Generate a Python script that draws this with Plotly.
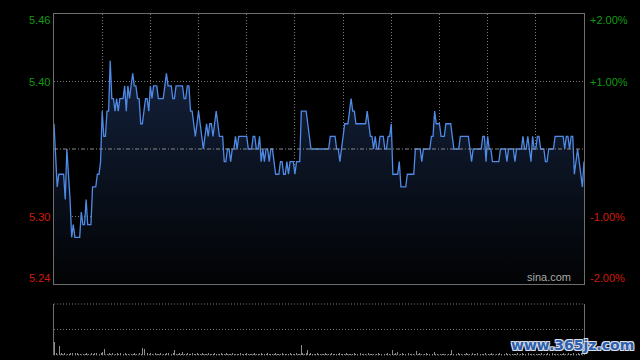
import plotly.graph_objects as go

prev_close = 5.35
left_labels = ["5.46", "5.40", "5.30", "5.24"]
right_labels = ["+2.00%", "+1.00%", "-1.00%", "-2.00%"]
pct_levels = [0.02, 0.01, -0.01, -0.02]
grid_minutes = [30, 60, 90, 120, 150, 180, 210, 240, 270, 300]

price = [
    5.37, 5.34, 5.32, 5.33, 5.33, 5.33, 5.33, 5.31, 5.35, 5.33,
    5.31, 5.28, 5.29, 5.28, 5.28, 5.28, 5.28, 5.30, 5.29, 5.29,
    5.31, 5.29, 5.29, 5.29, 5.32, 5.32, 5.32, 5.33, 5.33, 5.34,
    5.38, 5.36, 5.36, 5.38, 5.38, 5.42, 5.39, 5.39, 5.38, 5.39,
    5.38, 5.39, 5.39, 5.39, 5.40, 5.38, 5.40, 5.39, 5.40, 5.41,
    5.40, 5.40, 5.39, 5.39, 5.37, 5.37, 5.38, 5.39, 5.39, 5.38,
    5.40, 5.39, 5.40, 5.40, 5.40, 5.39, 5.39, 5.39, 5.39, 5.40,
    5.41, 5.40, 5.40, 5.40, 5.39, 5.39, 5.40, 5.40, 5.40, 5.40,
    5.40, 5.39, 5.39, 5.40, 5.40, 5.38, 5.38, 5.37, 5.36, 5.37,
    5.38, 5.37, 5.36, 5.35, 5.36, 5.37, 5.36, 5.37, 5.37, 5.36,
    5.37, 5.38, 5.37, 5.36, 5.36, 5.36, 5.34, 5.34, 5.35, 5.35,
    5.34, 5.35, 5.35, 5.36, 5.35, 5.36, 5.36, 5.36, 5.36, 5.36,
    5.36, 5.35, 5.35, 5.35, 5.36, 5.36, 5.35, 5.35, 5.36, 5.34,
    5.35, 5.34, 5.35, 5.35, 5.34, 5.35, 5.35, 5.34, 5.33, 5.33,
    5.33, 5.34, 5.34, 5.33, 5.33, 5.34, 5.33, 5.34, 5.34, 5.34,
    5.33, 5.34, 5.34, 5.34, 5.38, 5.38, 5.38, 5.38, 5.37, 5.36,
    5.35, 5.35, 5.35, 5.35, 5.35, 5.35, 5.35, 5.35, 5.35, 5.35,
    5.35, 5.35, 5.36, 5.36, 5.36, 5.36, 5.35, 5.35, 5.34, 5.35,
    5.36, 5.37, 5.37, 5.37, 5.38, 5.39, 5.38, 5.38, 5.37, 5.37,
    5.37, 5.37, 5.37, 5.37, 5.37, 5.38, 5.37, 5.36, 5.36, 5.35,
    5.36, 5.35, 5.35, 5.36, 5.36, 5.36, 5.35, 5.35, 5.36, 5.36,
    5.37, 5.33, 5.33, 5.33, 5.33, 5.34, 5.32, 5.32, 5.32, 5.32,
    5.33, 5.33, 5.33, 5.33, 5.33, 5.35, 5.35, 5.35, 5.35, 5.34,
    5.35, 5.35, 5.35, 5.35, 5.35, 5.36, 5.36, 5.38, 5.37, 5.37,
    5.37, 5.36, 5.36, 5.36, 5.37, 5.37, 5.37, 5.37, 5.36, 5.35,
    5.35, 5.35, 5.35, 5.36, 5.36, 5.36, 5.36, 5.36, 5.36, 5.35,
    5.34, 5.35, 5.35, 5.35, 5.35, 5.35, 5.35, 5.36, 5.36, 5.34,
    5.36, 5.35, 5.35, 5.34, 5.34, 5.34, 5.34, 5.34, 5.35, 5.35,
    5.35, 5.35, 5.34, 5.35, 5.35, 5.35, 5.35, 5.34, 5.35, 5.35,
    5.35, 5.35, 5.36, 5.35, 5.35, 5.36, 5.35, 5.34, 5.36, 5.35,
    5.35, 5.36, 5.36, 5.35, 5.35, 5.35, 5.34, 5.34, 5.35, 5.35,
    5.35, 5.35, 5.36, 5.36, 5.36, 5.36, 5.36, 5.36, 5.35, 5.36,
    5.36, 5.35, 5.36, 5.36, 5.33, 5.34, 5.35, 5.34, 5.33, 5.32,
    5.34,
]

volume = [
    25, 3, 12, 18, 3, 2, 3, 4, 2, 2,
    3, 4, 2, 3, 4, 2, 2, 3, 2, 2,
    3, 2, 6, 3, 2, 4, 3, 2, 2, 3,
    6, 12, 3, 2, 3, 2, 3, 8, 2, 4,
    2, 3, 2, 2, 3, 2, 2, 3, 2, 2,
    3, 2, 2, 3, 2, 14, 12, 2, 3, 2,
    4, 2, 2, 3, 2, 2, 3, 2, 2, 2,
    3, 4, 2, 2, 3, 10, 2, 2, 3, 2,
    6, 2, 2, 3, 2, 2, 4, 2, 2, 3,
    2, 2, 3, 2, 2, 2, 3, 2, 2, 2,
    3, 2, 2, 2, 3, 2, 2, 4, 2, 2,
    2, 3, 2, 2, 2, 2, 3, 2, 2, 2,
    3, 2, 2, 2, 2, 3, 2, 2, 2, 3,
    2, 2, 2, 3, 2, 2, 2, 2, 3, 2,
    2, 2, 3, 2, 2, 2, 2, 3, 2, 2,
    2, 3, 2, 2, 20, 4, 2, 3, 10, 2,
    4, 2, 2, 2, 3, 2, 2, 2, 2, 3,
    2, 2, 2, 3, 2, 2, 2, 2, 3, 2,
    2, 2, 3, 2, 2, 2, 2, 3, 2, 2,
    2, 3, 2, 2, 2, 2, 3, 2, 2, 2,
    2, 2, 3, 2, 2, 2, 2, 2, 3, 2,
    2, 10, 2, 3, 6, 2, 2, 3, 2, 2,
    2, 3, 2, 2, 2, 2, 8, 2, 3, 2,
    2, 2, 3, 2, 2, 2, 2, 6, 2, 2,
    3, 2, 2, 2, 2, 3, 2, 2, 9, 2,
    2, 2, 3, 2, 2, 2, 2, 3, 2, 2,
    2, 4, 2, 2, 3, 2, 2, 2, 2, 3,
    2, 2, 2, 3, 2, 2, 2, 2, 3, 2,
    2, 2, 3, 2, 2, 4, 2, 2, 2, 3,
    2, 2, 3, 2, 2, 2, 3, 2, 2, 2,
    3, 2, 2, 2, 3, 2, 2, 2, 3, 2,
    2, 3, 2, 2, 2, 3, 2, 2, 3, 2,
    2, 3, 2, 2, 4, 3, 2, 3, 2, 3,
    100,
]

minutes = list(range(len(price)))
y_lo = prev_close * (1 - 0.02)
y_hi = prev_close * (1 + 0.02)

GREEN = "#139a13"
RED = "#d21a0a"
GRID = "#7a7a7a"
BORDER = "#6e6e6e"
FONT = "Liberation Sans, Arial, sans-serif"

fig = go.Figure()
fig.add_trace(go.Scatter(
    x=minutes, y=price, mode="lines",
    line=dict(color="#4f8ae6", width=1.3),
    fill="tozeroy",
    fillgradient=dict(type="vertical",
                      colorscale=[[0, "#020304"], [1, "#14223d"]],
                      start=y_lo, stop=max(price)),
    xaxis="x", yaxis="y", hoverinfo="skip",
))
fig.add_trace(go.Bar(
    x=minutes, y=volume, marker=dict(color="#8c8c8c", line=dict(width=0)),
    width=0.55, xaxis="x2", yaxis="y2", hoverinfo="skip",
))

main_bottom = (355 - 284) / 341
vol_top = (355 - 304) / 341

fig.update_layout(
    width=640, height=360,
    margin=dict(l=54, r=56, t=14, b=5),
    paper_bgcolor="#000000", plot_bgcolor="#000000",
    showlegend=False, bargap=0, hovermode=False,
    xaxis=dict(domain=[0, 1], range=[0, 330], tickvals=grid_minutes,
               showticklabels=False, ticks="", showgrid=True,
               gridcolor=GRID, griddash="1px,2px", gridwidth=1,
               showline=True, mirror=True, linecolor=BORDER, linewidth=1,
               zeroline=False, anchor="y"),
    yaxis=dict(domain=[main_bottom, 1], range=[y_lo, y_hi],
               tickvals=[prev_close * 1.01, prev_close * 0.99],
               showticklabels=False, ticks="", showgrid=True,
               gridcolor=GRID, griddash="1px,2px", gridwidth=1,
               showline=True, mirror=True, linecolor=BORDER, linewidth=1,
               zeroline=False, anchor="x"),
    xaxis2=dict(domain=[0, 1], range=[-0.5, 330.6], showticklabels=False,
                ticks="", showgrid=False, showline=False, zeroline=False,
                anchor="y2"),
    yaxis2=dict(domain=[0, vol_top], range=[0, max(volume)],
                tickvals=[max(volume) / 2],
                showticklabels=False, ticks="", showgrid=True,
                gridcolor=GRID, griddash="1px,2px", gridwidth=1,
                showline=True, mirror=True, linecolor=BORDER, linewidth=1,
                zeroline=False, anchor="x2"),
)

# previous close line
fig.add_shape(type="line", xref="x domain", yref="y", x0=0, x1=1,
              y0=prev_close, y1=prev_close,
              line=dict(color="#8a8a8a", width=1, dash="4px,2px,1px,2px"))
# volume panel top and bottom dotted edges
for yy in (0, 1):
    fig.add_shape(type="line", xref="x2 domain", yref="y2 domain", x0=0, x1=1,
                  y0=yy, y1=yy, layer="below",
                  line=dict(color=GRID, width=1, dash="1px,2px"))

shifts = [-6, 0, 0, 6]
for lab, rlab, p, s in zip(left_labels, right_labels, pct_levels, shifts):
    col = GREEN if p > 0 else RED
    yv = prev_close * (1 + p)
    fig.add_annotation(text=lab, xref="paper", x=0, xanchor="right", xshift=-2,
                       yref="y", y=yv, yanchor="middle", yshift=s,
                       showarrow=False, font=dict(family=FONT, size=11, color=col))
    fig.add_annotation(text=rlab, xref="paper", x=1, xanchor="left", xshift=4,
                       yref="y", y=yv, yanchor="middle", yshift=s,
                       showarrow=False, font=dict(family=FONT, size=11, color=col))

fig.add_annotation(text="sina.com", xref="x", x=323, xanchor="right",
                   yref="y", y=y_lo, yanchor="bottom", yshift=-1,
                   showarrow=False,
                   font=dict(family=FONT, size=11, color="#a8a8a8"))

fig.add_annotation(text="<b>www.365jz.com</b>", xref="paper", x=1.0, xanchor="right",
                   xshift=52, yref="paper", y=0.03, yanchor="middle",
                   showarrow=False,
                   font=dict(family="DejaVu Sans, sans-serif", size=14, color="#2c5fae",
                             shadow="1px 1px 0 #d8dee8, -1px -1px 0 #d8dee8, 1px -1px 0 #d8dee8, -1px 1px 0 #d8dee8"))

fig.write_html("out.html", config={"displayModeBar": False, "staticPlot": True},
               post_script="document.body.style.margin='0';document.body.style.overflow='hidden';")
